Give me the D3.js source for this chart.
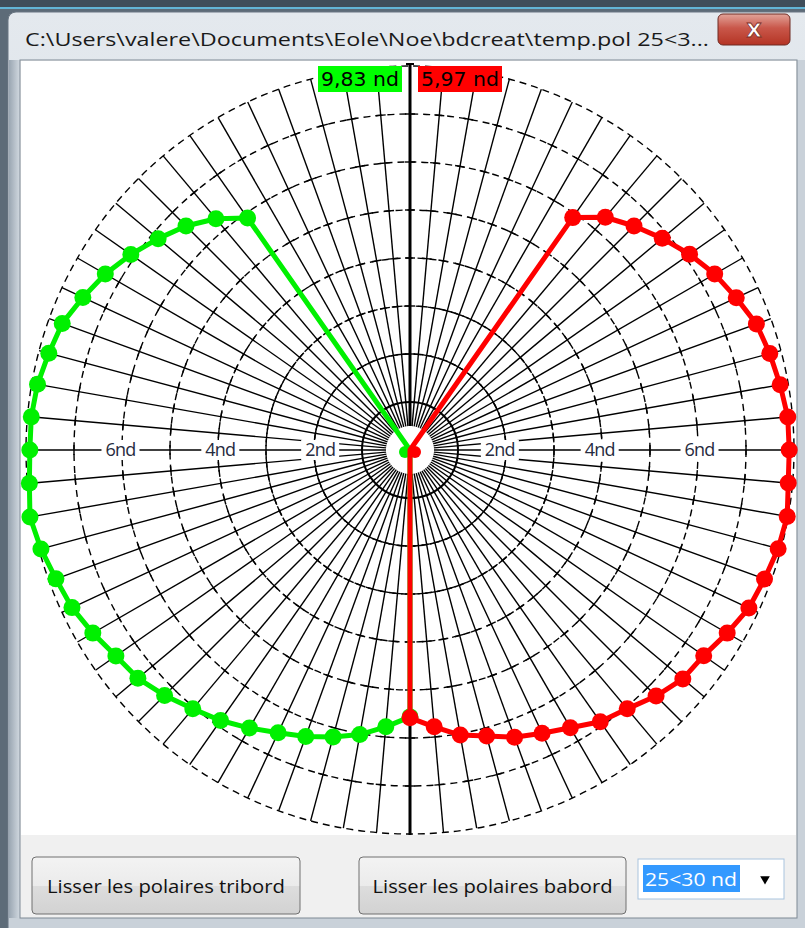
<!DOCTYPE html>
<html><head><meta charset="utf-8">
<script src="https://cdn.jsdelivr.net/npm/d3@7"></script>
<style>
html,body{margin:0;padding:0;background:#fff;}
svg{display:block;}
</style></head>
<body>
<script>
// ---------- data ----------
const angles = [0, 35, 40, 45, 50, 55, 60, 65, 70, 75, 80, 85, 90, 95, 100, 105, 110, 115, 120, 125, 130, 135, 140, 145, 150, 155, 160, 165, 170, 175, 180];
const tribordSpeeds = [0, 5.90, 6.29, 6.60, 6.85, 7.10, 7.33, 7.52, 7.71, 7.79, 7.88, 7.92, 7.92, 7.96, 8.04, 7.96, 7.85, 7.77, 7.63, 7.48, 7.40, 7.23, 7.04, 6.88, 6.69, 6.50, 6.35, 6.19, 6.02, 5.79, 5.56];
const babordSpeeds  = [0, 5.91, 6.33, 6.60, 6.86, 7.11, 7.33, 7.50, 7.68, 7.76, 7.83, 7.90, 7.90, 7.91, 7.98, 7.94, 7.86, 7.79, 7.63, 7.47, 7.42, 7.25, 7.04, 6.91, 6.68, 6.51, 6.37, 6.17, 6.03, 5.79, 5.58];
const ringValues = [1, 2, 3, 4, 5, 6, 7, 8];
const ringLabels = [2, 4, 6];
const spokeStep = 5;
const headerTribord = "9,83 nd";
const headerBabord = "5,97 nd";
const titleText = "C:\\Users\\valere\\Documents\\Eole\\Noe\\bdcreat\\temp.pol  25<3...";
const buttonLabels = ["Lisser les polaires tribord", "Lisser les polaires babord"];
const comboValue = "25<30 nd";

// ---------- layout ----------
const W = 805, H = 928;
const cx = 410, cy = 450;
const rMax = 384;
const r = d3.scaleLinear().domain([0, 8]).range([0, rMax]);

const svg = d3.select("body").append("svg").attr("width", W).attr("height", H)
  .style("font-family", "'Open Sans', 'Noto Sans', sans-serif");
const defs = svg.append("defs");

const tg = defs.append("linearGradient").attr("id", "titleGrad").attr("x1", 0).attr("y1", 0).attr("x2", 0).attr("y2", 1);
tg.append("stop").attr("offset", "0%").attr("stop-color", "#e4e9ee");
tg.append("stop").attr("offset", "100%").attr("stop-color", "#c3ccd6");
const fg = defs.append("linearGradient").attr("id", "frameGrad").attr("x1", 0).attr("y1", 0).attr("x2", 1).attr("y2", 0);
fg.append("stop").attr("offset", "0%").attr("stop-color", "#9aa6b2");
fg.append("stop").attr("offset", "100%").attr("stop-color", "#d7dee5");
const cg = defs.append("linearGradient").attr("id", "closeGrad").attr("x1", 0).attr("y1", 0).attr("x2", 0).attr("y2", 1);
cg.append("stop").attr("offset", "0%").attr("stop-color", "#e3a49a");
cg.append("stop").attr("offset", "45%").attr("stop-color", "#c9574a");
cg.append("stop").attr("offset", "100%").attr("stop-color", "#b43424");
const bg = defs.append("linearGradient").attr("id", "btnGrad").attr("x1", 0).attr("y1", 0).attr("x2", 0).attr("y2", 1);
bg.append("stop").attr("offset", "0%").attr("stop-color", "#f3f3f3");
bg.append("stop").attr("offset", "50%").attr("stop-color", "#ebebeb");
bg.append("stop").attr("offset", "51%").attr("stop-color", "#dddddd");
bg.append("stop").attr("offset", "100%").attr("stop-color", "#d2d2d2");

// ---------- window chrome ----------
svg.append("rect").attr("x", 0).attr("y", 0).attr("width", W).attr("height", H).attr("fill", "#5d6b78");
svg.append("rect").attr("x", 0).attr("y", 0).attr("width", W).attr("height", 8).attr("fill", "#3f4d5a");
svg.append("rect").attr("x", 0).attr("y", 7).attr("width", W).attr("height", 2).attr("fill", "#62b4d6");
svg.append("rect").attr("x", 8).attr("y", 12).attr("width", W).attr("height", H).attr("rx", 8)
  .attr("fill", "url(#titleGrad)").attr("stroke", "#6b7783");
svg.append("rect").attr("x", 9).attr("y", 60).attr("width", 12).attr("height", H - 60).attr("fill", "url(#frameGrad)");
svg.append("rect").attr("x", 797).attr("y", 60).attr("width", 8).attr("height", H - 60).attr("fill", "#c9d1d9");
svg.append("rect").attr("x", 9).attr("y", 918).attr("width", W).attr("height", 10).attr("fill", "#c9d1d9");

svg.append("text").attr("x", 25).attr("y", 46).attr("font-size", 18).attr("fill", "#1a1a1a")
  .style("font-family", "'Open Sans', sans-serif")
  .attr("textLength", 684).attr("lengthAdjust", "spacingAndGlyphs")
  .text(titleText);

// close button
svg.append("rect").attr("x", 718).attr("y", 14).attr("width", 72).attr("height", 31).attr("rx", 5)
  .attr("fill", "url(#closeGrad)").attr("stroke", "#6e2a22");
svg.append("text").attr("x", 754).attr("y", 37).attr("text-anchor", "middle").attr("font-size", 20)
  .attr("font-weight", "bold").attr("fill", "#fff").attr("stroke", "#7a2b22").attr("stroke-width", 0.8)
  .style("font-family", "'DejaVu Sans', sans-serif").text("X");

// client area
svg.append("rect").attr("x", 20).attr("y", 60).attr("width", 777).attr("height", 858).attr("fill", "#f0f0f0")
  .attr("stroke", "#7f8a95");
svg.append("rect").attr("x", 21).attr("y", 61).attr("width", 775).attr("height", 774).attr("fill", "#ffffff");

// ---------- polar grid ----------
const g = svg.append("g").attr("transform", `translate(${cx},${cy})`);
const rad = a => a * Math.PI / 180;

// dashed rings
g.selectAll("circle.ring").data(ringValues).join("circle").attr("class", "ring")
  .attr("r", d => r(d)).attr("fill", "none").attr("stroke", "#000")
  .attr("stroke-width", d => d === 1 ? 2 : 1.4)
  .attr("stroke-dasharray", d => d === 1 ? null : "7,5");

// spokes
const spokeAngles = d3.range(-180 + spokeStep, 180, spokeStep).filter(a => a !== 0);
const r0 = 24;
g.selectAll("line.spoke").data(spokeAngles).join("line").attr("class", "spoke")
  .attr("x1", a => r0 * Math.sin(rad(a))).attr("y1", a => -r0 * Math.cos(rad(a)))
  .attr("x2", a => r(8) * Math.sin(rad(a))).attr("y2", a => -r(8) * Math.cos(rad(a)))
  .attr("stroke", "#000").attr("stroke-width", 1.4);

// ticks on spokes
const tickData = [];
spokeAngles.concat([0, 180]).forEach(a => ringValues.slice(1, 7).forEach(v => tickData.push({ a, v })));
const tl = 5;
g.selectAll("line.tick").data(tickData).join("line").attr("class", "tick")
  .attr("x1", d => r(d.v) * Math.sin(rad(d.a)) - tl * Math.cos(rad(d.a)))
  .attr("y1", d => -r(d.v) * Math.cos(rad(d.a)) - tl * Math.sin(rad(d.a)))
  .attr("x2", d => r(d.v) * Math.sin(rad(d.a)) + tl * Math.cos(rad(d.a)))
  .attr("y2", d => -r(d.v) * Math.cos(rad(d.a)) + tl * Math.sin(rad(d.a)))
  .attr("stroke", "#000").attr("stroke-width", 1.4);

// main vertical axis
g.append("line").attr("x1", 0).attr("x2", 0).attr("y1", -r(8) - 2).attr("y2", -r0)
  .attr("stroke", "#000").attr("stroke-width", 3);
g.append("line").attr("x1", 0).attr("x2", 0).attr("y1", r0).attr("y2", r(8) + 1)
  .attr("stroke", "#000").attr("stroke-width", 3);
g.append("line").attr("x1", -4).attr("x2", 4).attr("y1", -r(8) - 2).attr("y2", -r(8) - 2)
  .attr("stroke", "#000").attr("stroke-width", 2);

// speed labels on the horizontal axis
const labelData = [];
ringLabels.forEach(v => { labelData.push({ v, s: -1 }); labelData.push({ v, s: 1 }); });
const lblPos = v => r(v) * 1.04 - 10;
const lg = g.selectAll("g.lbl").data(labelData).join("g").attr("class", "lbl")
  .attr("transform", d => `translate(${d.s * lblPos(d.v)},0)`);
lg.append("rect").attr("x", -19).attr("y", -10).attr("width", 38).attr("height", 20).attr("fill", "#fff");
lg.append("text").attr("text-anchor", "middle").attr("dy", "0.36em").attr("font-size", 18)
  .attr("fill", "#262b40").style("font-family", "'Open Sans', sans-serif")
  .attr("letter-spacing", -0.8)
  .text(d => d.v + "nd");

// ---------- polar curves ----------
function drawSeries(values, side, color) {
  const pts = angles.map((a, i) => ({ a: side * a, v: values[i] }));
  const line = d3.lineRadial().angle(d => rad(d.a)).radius(d => r(d.v)).curve(d3.curveLinearClosed);
  g.append("path").datum(pts).attr("d", line).attr("fill", "none").attr("stroke", color)
    .attr("stroke-width", 5).attr("stroke-linejoin", "round");
  g.selectAll(null).data(pts).join("circle")
    .attr("cx", d => d.v === 0 ? side * 5 : r(d.v) * Math.sin(rad(d.a)))
    .attr("cy", d => d.v === 0 ? 2 : -r(d.v) * Math.cos(rad(d.a)))
    .attr("r", d => d.v === 0 ? 6 : 8.5).attr("fill", color);
}
drawSeries(tribordSpeeds, -1, "#00f000");
drawSeries(babordSpeeds, 1, "#ff0000");

// ---------- header value boxes ----------
const hb = [{ t: headerTribord, c: "#00ff00", s: -1 }, { t: headerBabord, c: "#ff0000", s: 1 }];
const hg = svg.selectAll("g.hdr").data(hb).join("g").attr("class", "hdr")
  .attr("transform", d => `translate(${d.s < 0 ? cx - 92 : cx + 8},66)`);
hg.append("rect").attr("width", 84).attr("height", 26).attr("fill", d => d.c);
hg.append("text").attr("x", 42).attr("y", 20).attr("text-anchor", "middle").attr("font-size", 19)
  .style("font-family", "'DejaVu Sans', sans-serif").attr("fill", "#000")
  .attr("textLength", 78).attr("lengthAdjust", "spacingAndGlyphs").text(d => d.t);

// ---------- bottom controls ----------
const btns = [{ x: 32, w: 268, t: buttonLabels[0], tw: 238 }, { x: 359, w: 267, t: buttonLabels[1], tw: 240 }];
const bgp = svg.selectAll("g.btn").data(btns).join("g").attr("class", "btn")
  .attr("transform", d => `translate(${d.x},857)`);
bgp.append("rect").attr("width", d => d.w).attr("height", 57).attr("rx", 4)
  .attr("fill", "url(#btnGrad)").attr("stroke", "#707070");
bgp.append("text").attr("x", d => d.w / 2).attr("y", 36).attr("text-anchor", "middle").attr("font-size", 19)
  .attr("fill", "#111").style("font-family", "'Open Sans', sans-serif")
  .attr("textLength", d => d.tw).attr("lengthAdjust", "spacingAndGlyphs").text(d => d.t);

svg.append("rect").attr("x", 638).attr("y", 859).attr("width", 146).attr("height", 40)
  .attr("fill", "#fff").attr("stroke", "#a9c4de");
svg.append("rect").attr("x", 643).attr("y", 865).attr("width", 97).attr("height", 27).attr("fill", "#3399ff");
svg.append("text").attr("x", 645).attr("y", 886).attr("font-size", 19).attr("fill", "#fff")
  .style("font-family", "'Open Sans', sans-serif")
  .attr("textLength", 92).attr("lengthAdjust", "spacingAndGlyphs").text(comboValue);
svg.append("path").attr("d", d3.symbol(d3.symbolTriangle, 40)())
  .attr("transform", "translate(765,879) rotate(180)").attr("fill", "#000");
</script>
</body></html>
